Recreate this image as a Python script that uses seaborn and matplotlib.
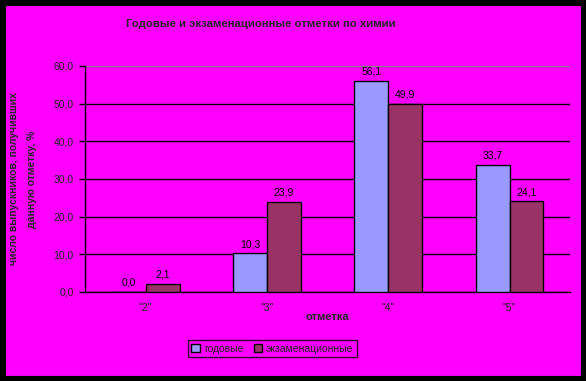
import matplotlib
matplotlib.use("Agg")
import matplotlib.pyplot as plt
import seaborn as sns
import pandas as pd
import numpy as np
from matplotlib.patches import Rectangle

categories = ['"2"', '"3"', '"4"', '"5"']
series_names = ["годовые", "экзаменационные"]
annual = [0.0, 10.3, 56.1, 33.7]
exam = [2.1, 23.9, 49.9, 24.1]
yticks = [0, 10, 20, 30, 40, 50, 60]
colors = ["#9999FF", "#993366"]
bg = "#FF00FF"

df = pd.DataFrame({
    "cat": categories * 2,
    "val": annual + exam,
    "series": [series_names[0]] * 4 + [series_names[1]] * 4,
})

sns.set_theme(style="white")
plt.rcParams["font.family"] = ["Liberation Sans", "DejaVu Sans"]

fig = plt.figure(figsize=(5.86, 3.81), dpi=100, facecolor=bg)
fig.patches.append(Rectangle((0, 0), 1, 1, transform=fig.transFigure, fill=False,
                             edgecolor="black", linewidth=8, zorder=10))
ax = fig.add_axes([0.145, 0.2336, 0.828, 0.5932])
ax.set_facecolor(bg)

sns.barplot(data=df, x="cat", y="val", hue="series", palette=colors, width=0.56,
            edgecolor="black", linewidth=1.0, saturation=1, ax=ax, legend=True, zorder=3)

ax.set_ylim(0, 60)
ax.set_xlim(-0.5, 3.5)
ax.set_yticks(yticks)
ax.set_yticklabels([f"{v:.1f}".replace(".", ",") for v in yticks], fontsize=7.5)
for y in yticks[:-1]:
    ax.axhline(y, color="black", lw=1, zorder=1)
ax.axhline(60, color="#808080", lw=1, zorder=1)

ax.set_xticks(range(4))
ax.set_xticklabels(categories, fontsize=7.5)
ax.set_xticks([-0.5, 0.5, 1.5, 2.5, 3.5], minor=True)
ax.tick_params(axis="x", which="major", length=0, pad=8)
ax.tick_params(axis="x", which="minor", length=4, width=1, color="black", direction="out")
ax.tick_params(axis="y", length=4, width=1, color="black", direction="out", pad=4, left=True)

for s in ["top", "right"]:
    ax.spines[s].set_visible(False)
for s in ["left", "bottom"]:
    ax.spines[s].set_color("black")
    ax.spines[s].set_linewidth(1)

for cont in ax.containers:
    labels = [f"{b.get_height():.1f}".replace(".", ",") for b in cont]
    ax.bar_label(cont, labels=labels, padding=3, fontsize=7.5, color="black")

ax.set_xlabel("отметка", fontsize=8, fontweight="bold", labelpad=-1)
ax.set_ylabel("число выпускников, получивших\nданную отметку, %", fontsize=7.5,
              fontweight="bold", labelpad=12, linespacing=2.0)

fig.text(0.445, 0.937, "Годовые и экзаменационные отметки по химии", ha="center",
         va="center", fontsize=8.2, fontweight="bold")

leg = ax.legend(loc="center", ncol=2, frameon=True, fontsize=7.5, handlelength=0.8,
                handleheight=0.8, handletextpad=0.4, columnspacing=1.0, borderpad=0.3,
                fancybox=False)
leg.get_frame().set_edgecolor("black")
leg.get_frame().set_facecolor(bg)
leg.get_frame().set_linewidth(1)
leg.set_bbox_to_anchor((0.465, 0.085), transform=fig.transFigure)

fig.savefig("out.png", dpi=100, facecolor=bg)
